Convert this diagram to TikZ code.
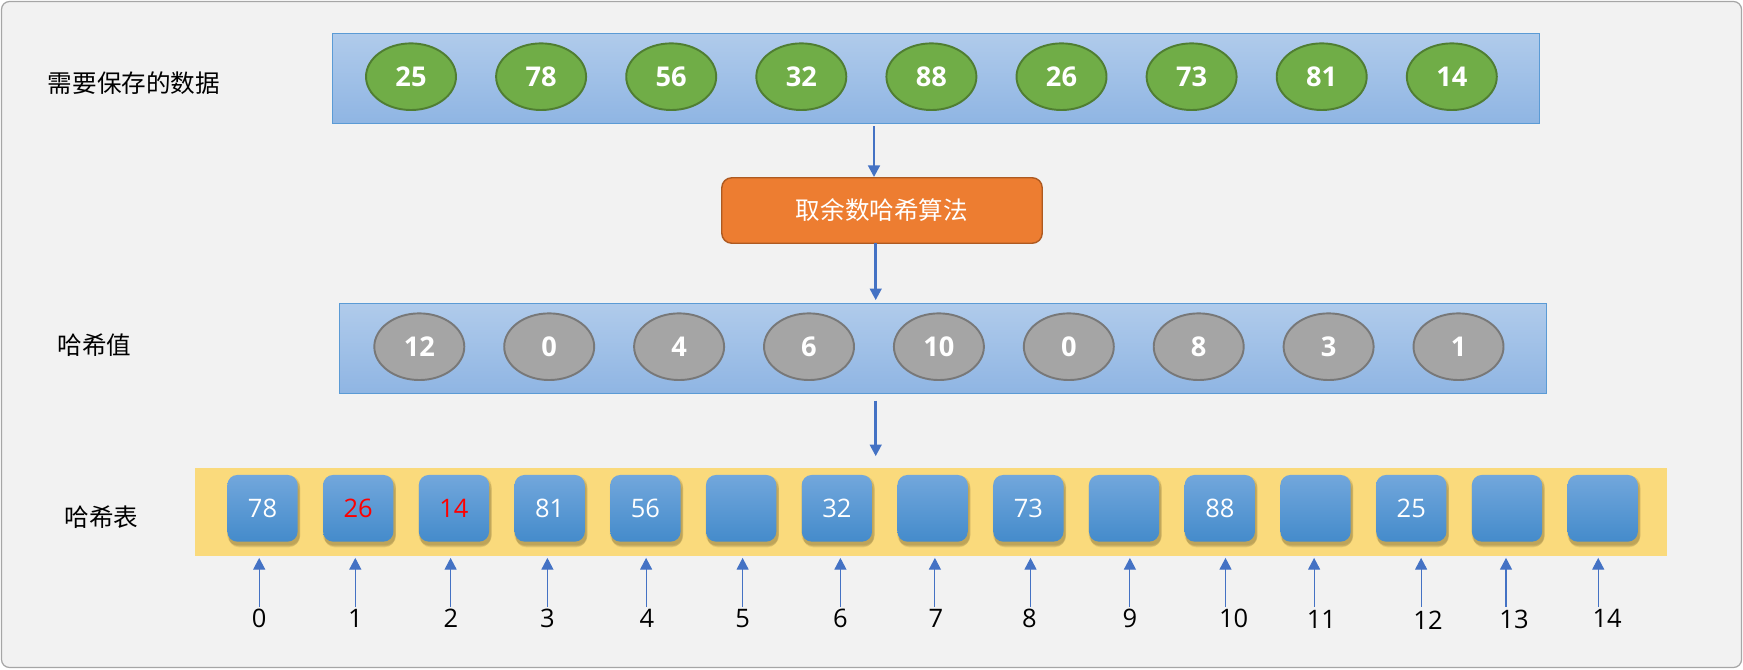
\documentclass[tikz,border=0pt]{standalone}
\usepackage{fontspec}
\setmainfont{Open Sans}
\newfontfamily\cjk{Noto Sans CJK SC}
\usetikzlibrary{arrows.meta,shadows,shapes.geometric}
\definecolor{bgcol}{HTML}{F2F2F2}
\definecolor{framecol}{HTML}{A6A6A6}
\definecolor{bandtop}{HTML}{B0CBEB}
\definecolor{bandbot}{HTML}{8FB5E3}
\definecolor{bandline}{HTML}{5B9BD5}
\definecolor{grnfill}{HTML}{70AD47}
\definecolor{grnline}{HTML}{507E32}
\definecolor{gryfill}{HTML}{A5A5A5}
\definecolor{gryline}{HTML}{787878}
\definecolor{orgfill}{HTML}{ED7D31}
\definecolor{orgline}{HTML}{AE5A21}
\definecolor{ylwfill}{HTML}{FADA7C}
\definecolor{celltop}{HTML}{72A7DC}
\definecolor{cellbot}{HTML}{448BCB}
\definecolor{arrcol}{HTML}{4472C4}
\definecolor{shadecol}{HTML}{5A4A20}

\begin{document}
\begin{tikzpicture}
[x=0.02cm,y=-0.02cm]
\tikzset{band/.style={draw=bandline,line width=0.6pt,top color=bandtop,bottom color=bandbot,inner sep=0pt}}
\tikzset{grn/.style={ellipse,draw=grnline,line width=1.1pt,fill=grnfill,minimum width=1.8cm,minimum height=1.333cm,inner sep=0pt,text=white,font=\fontsize{15.5}{18}\selectfont\bfseries}}
\tikzset{gry/.style={grn,draw=gryline,fill=gryfill}}
\tikzset{soft/.style={drop shadow={shadow xshift=0.6pt,shadow yshift=-1.2pt,shadow scale=1.04,opacity=0.12,fill=shadecol},drop shadow={shadow xshift=1pt,shadow yshift=-2.2pt,shadow scale=1.02,opacity=0.18,fill=shadecol},drop shadow={shadow xshift=0.8pt,shadow yshift=-3.2pt,shadow scale=1.0,opacity=0.12,fill=shadecol}}}
\tikzset{cell/.style={rounded corners=0.2cm,top color=celltop,bottom color=cellbot,minimum width=1.406cm,minimum height=1.334cm,inner sep=0pt,font=\fontsize{14.5}{17}\selectfont,soft}}
\tikzset{lbl/.style={font=\cjk\fontsize{14}{17}\selectfont}}
\tikzset{idx/.style={font=\fontsize{14.5}{17}\selectfont,inner sep=0pt}}
\tikzset{bigarr/.style={draw=arrcol,line width=1.5pt,-{Triangle[width=6.6pt,length=6.6pt]}}}
\tikzset{smallarr/.style={draw=arrcol,line width=0.6pt,-{Triangle[width=6.8pt,length=6.6pt]}}}

\useasboundingbox (0,0) rectangle (1743,669);
\draw[fill=bgcol,draw=framecol,line width=0.7pt,rounded corners=0.16cm] (1.5,1.5) rectangle (1741.5,667.5);

\node[lbl] (l1) at (134,83.5) {需要保存的数据};
\node[lbl] (l2) at (94.5,345.5) {哈希值};
\node[lbl] (l3) at (101.7,517) {哈希表};

\node[band,minimum width=24.16cm,minimum height=1.8cm] (top) at (936,78.3) {};
\foreach \v [count=\i from 0] in {25,78,56,32,88,26,73,81,14}
	\node[grn] (g\i) at (411+130.1*\i,76.7) {\v};

\node[rounded corners=0.2cm,draw=orgline,line width=0.8pt,fill=orgfill,minimum width=6.41cm,minimum height=1.31cm,text=white,lbl] (alg) at (882,210.5) {取余数哈希算法};

\node[band,minimum width=24.15cm,minimum height=1.8cm] (mid) at (943,348.3) {};
\foreach \v [count=\i from 0] in {12,0,4,6,10,0,8,3,1}
	\node[gry] (h\i) at (419.3+129.9*\i,346.7) {\v};

\node[fill=ylwfill,minimum width=29.44cm,minimum height=1.754cm,inner sep=0pt] (tbl) at (931,511.8) {};
\foreach \v/\c [count=\i from 0] in {78/white,26/red,14/red,81/white,56/white,/white,32/white,/white,73/white,/white,88/white,/white,25/white,/white,/white}
	\node[cell,text=\c] (b\i) at (262.5+95.73*\i,508.3) {\v};

\coordinate (t1) at (874,126);
\coordinate (t2) at (875.7,243.3);
\coordinate (t3) at (875.7,400.7);
\draw[bigarr] (t1) -- (t1 |- alg.north);
\draw[bigarr,shorten >=1.5pt] (t2) -- (t2 |- mid.north);
\draw[bigarr,shorten >=6.5pt] (t3) -- (t3 |- tbl.north);

\foreach \i/\ax/\lx/\ly in {0/259.2/259.2/618.3,1/355.3/355.3/618.3,2/450.6/451/618.3,3/547.4/547.4/618.3,4/646.1/646.9/618.3,5/742.6/742.6/618.3,6/840.4/840.4/618.3,7/934.9/936/618.3,8/1030.5/1029.3/618.3,9/1129.9/1130/618.3,10/1225.5/1233.7/618.3,11/1314.1/1321.4/619,12/1421.1/1428/620.5,13/1506/1514/619,14/1598.2/1607.2/618.3}
{
	\node[idx] (n\i) at (\lx,\ly) {\i};
	\coordinate (a\i) at (\ax,606.7);
	\draw[smallarr,shorten >=1.1pt] (a\i) -- (a\i |- tbl.south);
}
\end{tikzpicture}
\end{document}
